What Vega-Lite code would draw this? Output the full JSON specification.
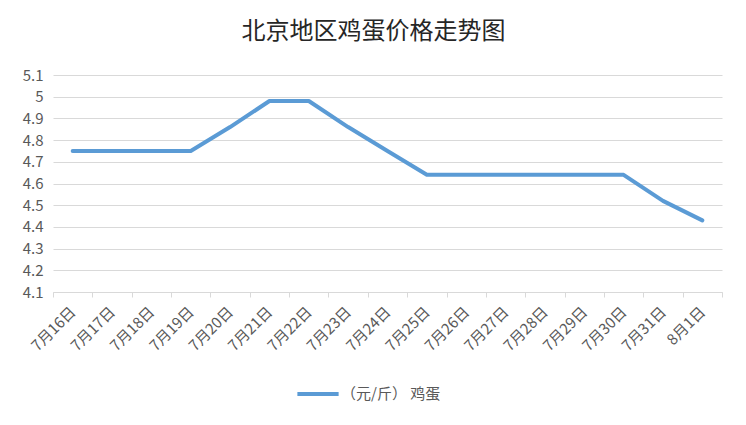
{
  "$schema": "https://vega.github.io/schema/vega-lite/v6.json",
  "autosize": "none",
  "width": 669,
  "height": 217,
  "padding": {"left": 53, "top": 75, "right": 24, "bottom": 133},
  "background": "white",
  "title": {
    "text": "北京地区鸡蛋价格走势图",
    "font": "Noto Sans CJK SC",
    "fontSize": 24,
    "fontWeight": "normal",
    "color": "#262626",
    "anchor": "middle",
    "dx": -14,
    "offset": 24
  },
  "data": {
    "values": [
      {"date": "7月16日", "price": 4.75},
      {"date": "7月17日", "price": 4.75},
      {"date": "7月18日", "price": 4.75},
      {"date": "7月19日", "price": 4.75},
      {"date": "7月20日", "price": 4.86},
      {"date": "7月21日", "price": 4.98},
      {"date": "7月22日", "price": 4.98},
      {"date": "7月23日", "price": 4.86},
      {"date": "7月24日", "price": 4.75},
      {"date": "7月25日", "price": 4.64},
      {"date": "7月26日", "price": 4.64},
      {"date": "7月27日", "price": 4.64},
      {"date": "7月28日", "price": 4.64},
      {"date": "7月29日", "price": 4.64},
      {"date": "7月30日", "price": 4.64},
      {"date": "7月31日", "price": 4.52},
      {"date": "8月1日", "price": 4.43}
    ]
  },
  "mark": {"type": "line", "strokeWidth": 4, "strokeCap": "round", "strokeJoin": "round"},
  "encoding": {
    "x": {
      "field": "date",
      "type": "ordinal",
      "sort": null,
      "bandPosition": 0.5,
      "scale": {"type": "band", "paddingInner": 0, "paddingOuter": 0},
      "axis": {
        "title": null,
        "tickBand": "extent",
        "labelAngle": -45,
        "labelAlign": "right",
        "labelBaseline": "middle",
        "labelPadding": 12,
        "labelFont": "Noto Sans CJK SC",
        "labelFontSize": 15,
        "labelColor": "#595959",
        "domainColor": "#d9d9d9",
        "tickColor": "#d9d9d9",
        "tickSize": 5,
        "grid": false
      }
    },
    "y": {
      "field": "price",
      "type": "quantitative",
      "scale": {"domain": [4.1, 5.1], "zero": false, "nice": false},
      "axis": {
        "title": null,
        "values": [4.1, 4.2, 4.3, 4.4, 4.5, 4.6, 4.7, 4.8, 4.9, 5, 5.1],
        "format": ".1~f",
        "domain": false,
        "ticks": false,
        "labelPadding": 10,
        "labelFont": "Noto Sans CJK SC",
        "labelFontSize": 15,
        "labelColor": "#595959",
        "gridColor": "#d9d9d9",
        "gridWidth": 1
      }
    },
    "color": {
      "datum": "（元/斤） 鸡蛋",
      "scale": {"range": ["#5B9BD5"]},
      "legend": {
        "title": null,
        "orient": "none",
        "legendX": 242,
        "legendY": 296,
        "symbolType": "stroke",
        "symbolSize": 1700,
        "symbolStrokeWidth": 4,
        "labelFont": "Noto Sans CJK SC",
        "labelFontSize": 15,
        "labelColor": "#595959",
        "labelOffset": 0
      }
    }
  },
  "config": {
    "view": {"stroke": null}
  }
}
